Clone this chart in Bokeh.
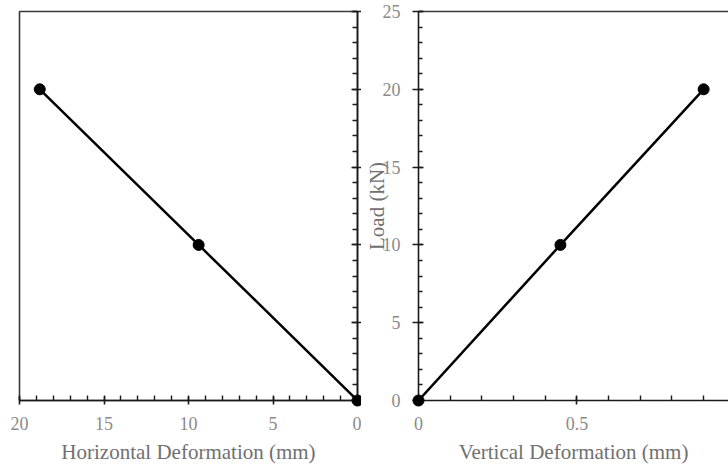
from bokeh.plotting import figure
from bokeh.layouts import row
from bokeh.models import Range1d, FixedTicker, LinearAxis
from bokeh.embed import file_html
from bokeh.resources import INLINE

# Data
load_kn = [0, 10, 20]
horizontal_def = [0, 9.4, 18.8]
vertical_def = [0, 0.448, 0.90]

y_major = [0, 5, 10, 15, 20, 25]
y_minor = list(range(0, 26))
hx_major = [0, 5, 10, 15, 20]
hx_minor = list(range(0, 21))
vx_major = [0, 0.5, 1.0]
vx_minor = [0, 0.1, 0.2, 0.3, 0.4, 0.5, 0.6, 0.7, 0.8, 0.9, 1.0]
vx_labels = {0: "0", 0.5: "0.5", 1.0: "1"}

FONT = "Liberation Serif"
TICK_COLOR = "#8a8a8a"
TITLE_COLOR = "#707070"
LINE_COLOR = "#1a1a1a"


def style_axis(ax, major_in, major_out, minor_in, minor_out):
    ax.axis_line_color = LINE_COLOR
    ax.axis_line_width = 1.6
    ax.major_tick_line_color = LINE_COLOR
    ax.major_tick_line_width = 1.6
    ax.minor_tick_line_color = LINE_COLOR
    ax.minor_tick_line_width = 1.4
    ax.major_tick_in = major_in
    ax.major_tick_out = major_out
    ax.minor_tick_in = minor_in
    ax.minor_tick_out = minor_out
    ax.major_label_text_font = FONT
    ax.major_label_text_color = TICK_COLOR
    ax.major_label_text_font_size = "18px"
    ax.axis_label_text_font = FONT
    ax.axis_label_text_color = TITLE_COLOR
    ax.axis_label_text_font_size = "21px"
    ax.axis_label_text_font_style = "normal"


# Left panel: horizontal deformation (reversed x axis)
p1 = figure(width=361, height=469, output_backend="svg", toolbar_location=None,
            x_range=Range1d(20, 0), y_range=Range1d(0, 25),
            y_axis_location=None,
            min_border_left=19, min_border_right=4, min_border_top=11, min_border_bottom=69)
p1.grid.visible = False
p1.outline_line_color = "#3a3a3a"
p1.outline_line_width = 1.6
p1.background_fill_color = "white"
p1.border_fill_color = "white"

xa = p1.xaxis[0]
xa.ticker = FixedTicker(ticks=hx_major, minor_ticks=hx_minor)
style_axis(xa, 4, 4, 5, 0)
xa.major_label_standoff = 12
xa.axis_label = "Horizontal Deformation (mm)"
xa.axis_label_standoff = 7

ya = LinearAxis(ticker=FixedTicker(ticks=y_major, minor_ticks=y_minor),
                major_label_overrides={t: "" for t in y_major})
style_axis(ya, 6, 4, 5, 0)
ya.major_label_standoff = 0
p1.add_layout(ya, "right")

p1.line(horizontal_def, load_kn, line_color="black", line_width=2.5)
p1.scatter(horizontal_def, load_kn, size=11, fill_color="black", line_color="black",
           level="overlay")

# Right panel: vertical deformation
p2 = figure(width=367, height=469, output_backend="svg", toolbar_location=None,
            x_range=Range1d(0, 0.9785), y_range=Range1d(0, 25),
            min_border_left=57, min_border_right=0, min_border_top=11, min_border_bottom=69)
p2.grid.visible = False
p2.outline_line_color = None
p2.background_fill_color = "white"
p2.border_fill_color = "white"

xb = p2.xaxis[0]
xb.ticker = FixedTicker(ticks=vx_major, minor_ticks=vx_minor)
style_axis(xb, 4, 4, 5, 0)
xb.major_label_overrides = vx_labels
xb.major_label_standoff = 12
xb.axis_label = "Vertical Deformation (mm)"
xb.axis_label_standoff = 7

yb = p2.yaxis[0]
yb.ticker = FixedTicker(ticks=y_major, minor_ticks=y_minor)
style_axis(yb, 5, 6, 4, 0)
yb.major_label_standoff = 12
yb.axis_label = "Load (kN)"
yb.axis_label_standoff = -9

top = LinearAxis(ticker=FixedTicker(ticks=[]), major_label_overrides={})
top.axis_line_color = "#3a3a3a"
top.axis_line_width = 1.6
top.major_tick_line_color = None
top.minor_tick_line_color = None
top.major_label_text_font_size = "1px"
p2.add_layout(top, "above")

p2.line(vertical_def, load_kn, line_color="black", line_width=2.5)
p2.scatter(vertical_def, load_kn, size=11, fill_color="black", line_color="black",
           level="overlay")

layout = row(p1, p2)
open("out.html", "w").write(file_html(layout, INLINE))
